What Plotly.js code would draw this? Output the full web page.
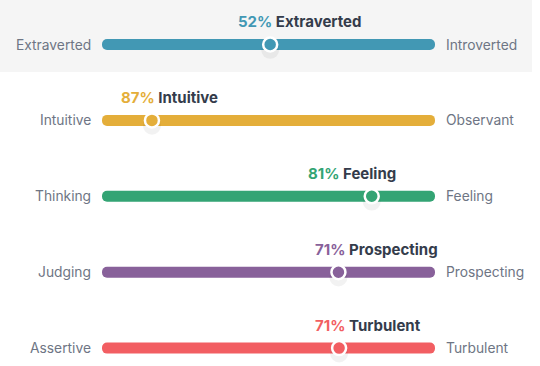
<!DOCTYPE html>
<html>
<head>
<meta charset="utf-8">
<script src="https://cdn.plot.ly/plotly-3.0.1.min.js"></script>
<style>html,body{margin:0;padding:0;background:#fff;}#chart{width:540px;height:366px;}</style>
</head>
<body>
<div id="chart"></div>
<script>
// Data
const traitNames   = ["Extraverted", "Intuitive", "Feeling", "Prospecting", "Turbulent"];
const percents     = [52, 87, 81, 71, 71];
const leftLabels   = ["Extraverted", "Intuitive", "Thinking", "Judging", "Assertive"];
const rightLabels  = ["Introverted", "Observant", "Feeling", "Prospecting", "Turbulent"];
const markerPos    = [50.5, 15, 81, 71, 71.2];   // marker position on the 0-100 scale
const barColors    = ["#4298b4", "#e4ae3a", "#33a474", "#88619a", "#f25e62"];
const scaleMax     = [100, 100, 100, 100, 100];

const rows = traitNames.map((_, i) => i);
const titleStartPx = [238, 121, 308, 315, 315];

const W = 540, H = 366;
const textDark = "#343c4b";
const textGray = "#6e7584";

const traces = [
  {
    type: "bar", orientation: "h",
    x: scaleMax, y: rows, base: 0,
    width: 0.145,
    marker: { color: barColors, line: { width: 0 } },
    hoverinfo: "skip"
  },
  {
    type: "scatter", mode: "markers",
    x: markerPos, y: rows.map(r => r + 0.07),
    marker: { size: 18, color: "rgba(0,0,0,0.05)", line: { width: 0 } },
    hoverinfo: "skip"
  },
  {
    type: "scatter", mode: "markers",
    x: markerPos, y: rows,
    marker: { size: 14, color: barColors, line: { color: "#ffffff", width: 2.5 } },
    hoverinfo: "skip"
  }
];

const annotations = [];
rows.forEach(i => {
  annotations.push({
    xref: "x", yref: "y", x: 0, y: i, xanchor: "right", yanchor: "middle",
    xshift: -9, showarrow: false, text: leftLabels[i],
    font: { family: "Inter, 'Noto Sans', sans-serif", size: 13.8, color: textGray }
  });
  annotations.push({
    xref: "x", yref: "y", x: 100, y: i, xanchor: "left", yanchor: "middle",
    xshift: 9, showarrow: false, text: rightLabels[i],
    font: { family: "Inter, 'Noto Sans', sans-serif", size: 13.8, color: textGray }
  });
  annotations.push({
    xref: "paper", yref: "y", x: titleStartPx[i] / W, y: i, xanchor: "left", yanchor: "middle",
    yshift: 23, xshift: -2, showarrow: false,
    text: '<span style="color:' + barColors[i] + '">' + percents[i] + '%</span> ' + traitNames[i],
    font: { family: "Inter, 'Noto Sans', sans-serif", size: 15, color: textDark, weight: 700 }
  });
});

const rowPx0 = 44.5, rowStep = 75.9;
const yTop = -rowPx0 / rowStep;
const yBot = (H - rowPx0) / rowStep;

const layout = {
  width: W, height: H,
  margin: { l: 0, r: 0, t: 0, b: 0, pad: 0 },
  paper_bgcolor: "#ffffff", plot_bgcolor: "rgba(0,0,0,0)",
  showlegend: false,
  barcornerradius: "50%",
  xaxis: { domain: [102 / W, 435 / W], range: [0, 100], visible: false, fixedrange: true },
  yaxis: { range: [yBot, yTop], visible: false, fixedrange: true },
  shapes: [
    { type: "rect", xref: "paper", yref: "paper", x0: 0, x1: 532 / W, y0: 1, y1: 1 - 72 / H,
      fillcolor: "#f5f5f5", line: { width: 0 }, layer: "below" }
  ],
  annotations: annotations
};

Plotly.newPlot("chart", traces, layout, { displayModeBar: false, staticPlot: true });
</script>
</body>
</html>
